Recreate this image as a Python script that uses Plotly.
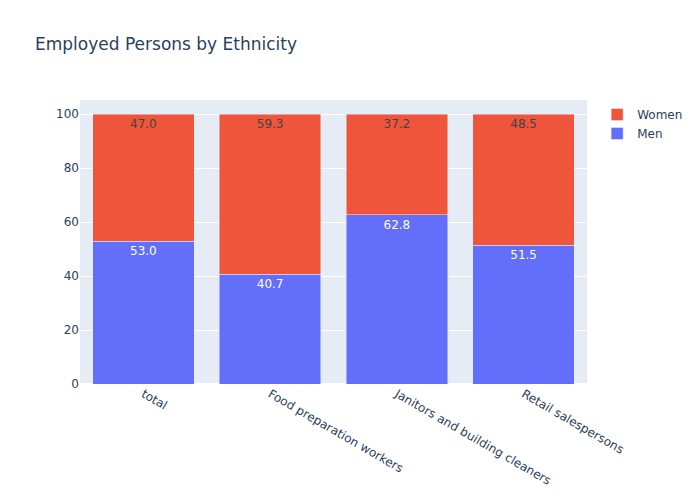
import plotly.graph_objects as go

categories = ["total", "Food preparation workers", "Janitors and building cleaners", "Retail salespersons"]
men = [53.0, 40.7, 62.8, 51.5]
women = [47.0, 59.3, 37.2, 48.5]

fig = go.Figure()
fig.add_trace(go.Bar(name="Men", x=categories, y=men, texttemplate="%{y:.1f}", textposition="auto"))
fig.add_trace(go.Bar(name="Women", x=categories, y=women, texttemplate="%{y:.1f}", textposition="auto"))
fig.update_layout(barmode="stack", title="Employed Persons by Ethnicity", width=700, height=500,
                  font=dict(family="DejaVu Sans"))
fig.write_html("out.html", config={"displayModeBar": False},
               post_script="document.body.style.margin='0px';")
